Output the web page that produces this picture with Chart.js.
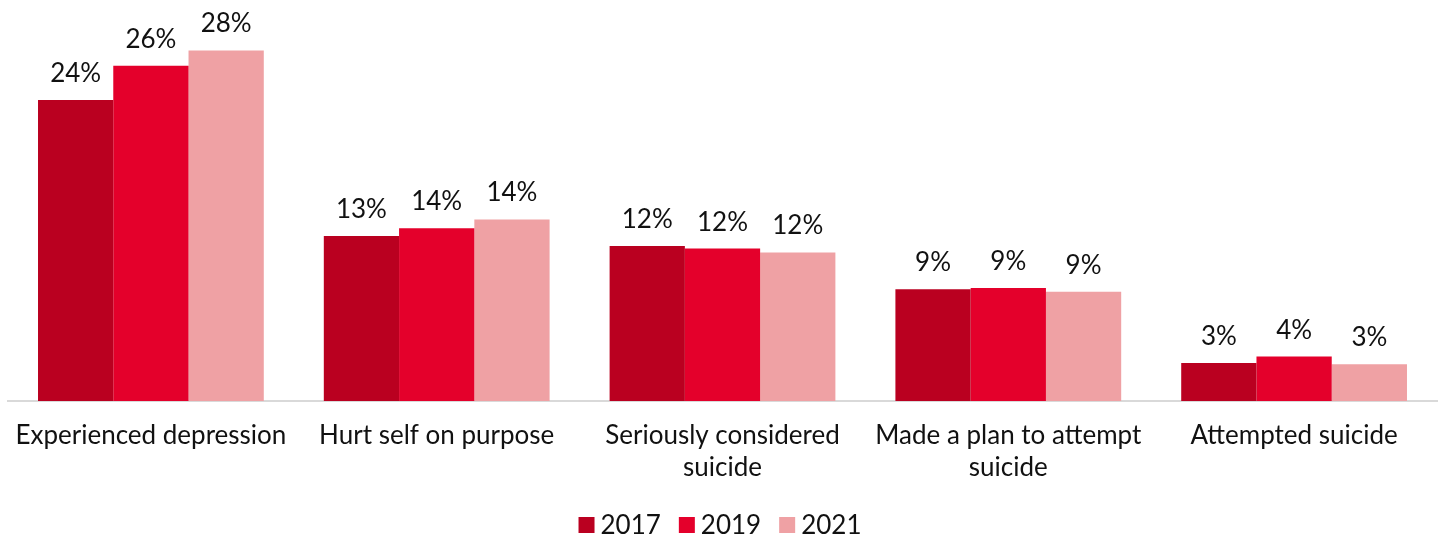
<!DOCTYPE html>
<html>
<head>
<meta charset="utf-8">
<script src="https://cdn.jsdelivr.net/npm/chart.js@4"></script>
<style>
  html, body { margin: 0; padding: 0; background: #fff; }
  #wrap { width: 1440px; height: 539px; position: relative; }
</style>
</head>
<body>
<div id="wrap"><canvas id="myChart"></canvas></div>
<script>
const categories = [
  "Experienced depression",
  ["Hurt self on purpose"],
  ["Seriously considered", "suicide"],
  ["Made a plan to attempt", "suicide"],
  "Attempted suicide"
]
const years = ["2017", "2019", "2021"]
const values2017 = [23.7, 13.0, 12.2, 8.8, 3.0]
const values2019 = [26.4, 13.6, 12.0, 8.9, 3.5]
const values2021 = [27.6, 14.3, 11.7, 8.6, 2.9]
const colors = ["#BA0020", "#E4002B", "#EFA1A4"]

const FONT = "Lato, 'Open Sans', sans-serif"

// percent labels above each bar
const barLabels = {
  id: "barLabels",
  afterDatasetsDraw(chart) {
    const ctx = chart.ctx
    ctx.save()
    ctx.font = "26px " + FONT
    ctx.fillStyle = "#111"
    ctx.textAlign = "center"
    ctx.textBaseline = "alphabetic"
    chart.data.datasets.forEach((ds, i) => {
      chart.getDatasetMeta(i).data.forEach((bar, j) => {
        ctx.fillText(Math.round(ds.data[j]) + "%", bar.x, bar.y - 18)
      })
    })
    ctx.restore()
  }
}

// legend row under the axis labels, small squares close to the text
const bottomLegend = {
  id: "bottomLegend",
  afterDraw(chart) {
    const ctx = chart.ctx
    const box = 16, gapText = 6, gapItem = 18
    const y = 525
    ctx.save()
    ctx.font = "26px " + FONT
    ctx.textBaseline = "middle"
    ctx.textAlign = "left"
    const widths = chart.data.datasets.map(ds => box + gapText + ctx.measureText(ds.label).width)
    const total = widths.reduce((a, b) => a + b, 0) + gapItem * (widths.length - 1)
    let x = (chart.width - total) / 2
    chart.data.datasets.forEach((ds, i) => {
      ctx.fillStyle = ds.backgroundColor
      ctx.fillRect(x, y - box / 2, box, box)
      ctx.fillStyle = "#111"
      ctx.fillText(ds.label, x + box + gapText, y + 1)
      x += widths[i] + gapItem
    })
    ctx.restore()
  }
}

const ctx = document.getElementById("myChart")

const myChart = new Chart(ctx, {
  type: "bar",
  data: {
    labels: categories,
    datasets: [
      { label: years[0], data: values2017, backgroundColor: colors[0] },
      { label: years[1], data: values2019, backgroundColor: colors[1] },
      { label: years[2], data: values2021, backgroundColor: colors[2] }
    ]
  },
  options: {
    responsive: true,
    maintainAspectRatio: false,
    animation: false,
    categoryPercentage: 0.79,
    barPercentage: 1,
    layout: { padding: { top: 20, left: 8, right: 3, bottom: 55 } },
    plugins: {
      legend: { display: false },
      tooltip: { enabled: false }
    },
    scales: {
      x: {
        // invisible ticks give the gap under the axis line
        grid: { display: true, drawOnChartArea: false, drawTicks: true, tickLength: 18, tickColor: "rgba(0,0,0,0)" },
        border: { display: true, color: "#D9D9D9", width: 2 },
        ticks: {
          color: "#111",
          padding: 0,
          maxRotation: 0,
          autoSkip: false,
          font: { family: FONT, size: 26, lineHeight: 1.25 }
        }
      },
      y: {
        display: false,
        min: 0,
        max: 30
      }
    }
  },
  plugins: [barLabels, bottomLegend]
})
</script>
</body>
</html>
